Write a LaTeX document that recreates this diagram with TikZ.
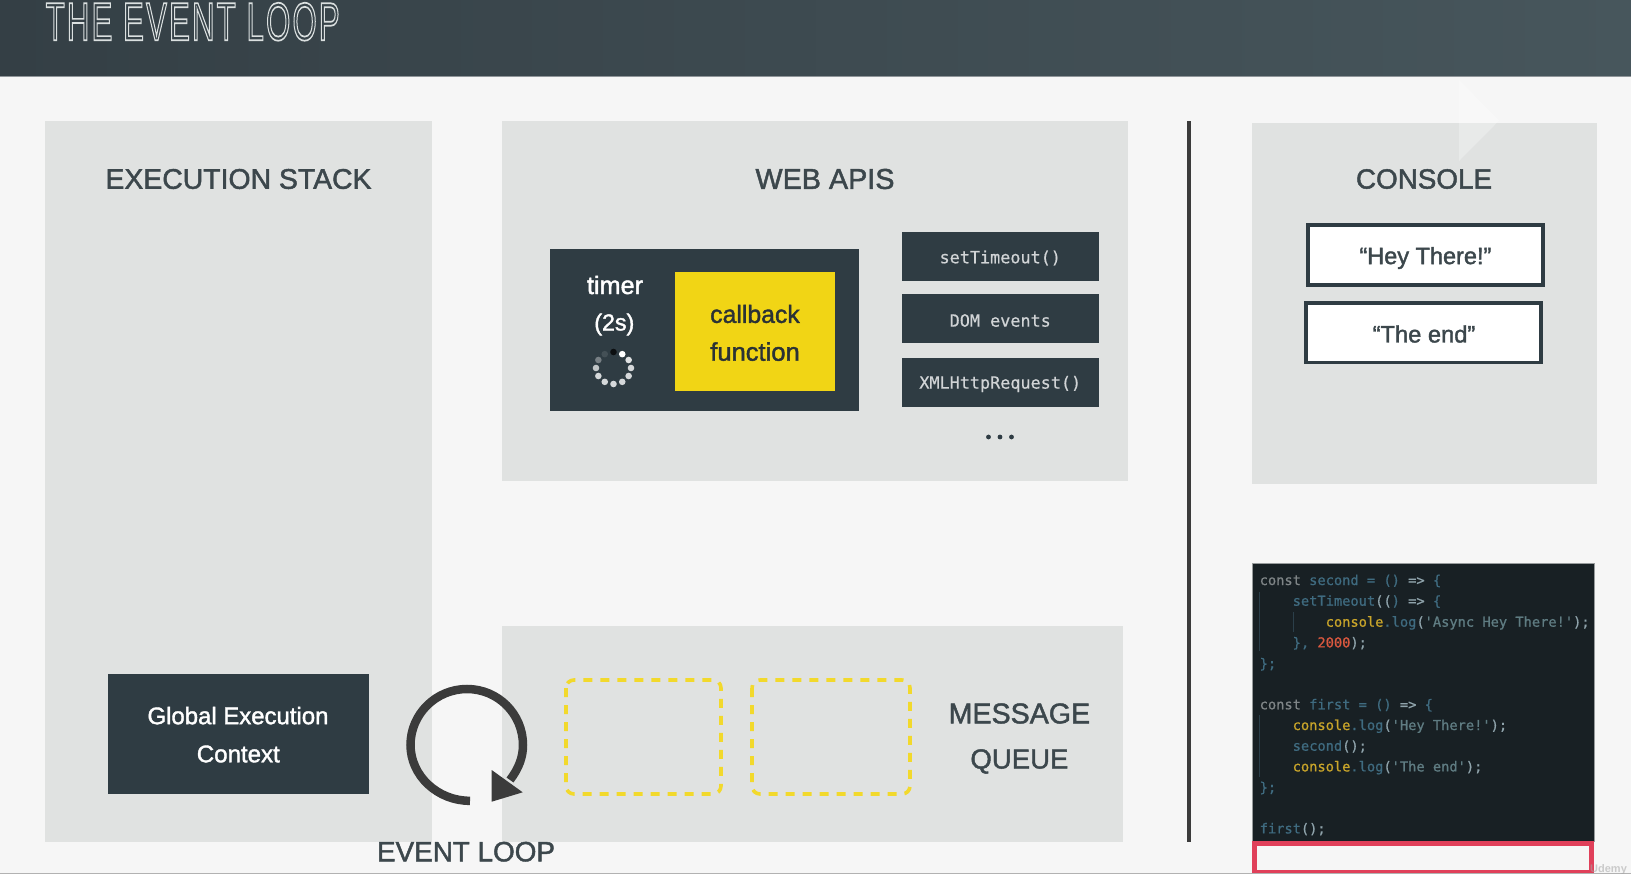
\documentclass[tikz,border=0pt]{standalone}
\usepackage{fontspec}
\usepackage{graphicx}
\setmainfont{Liberation Sans}
\newfontfamily\medfnt[FakeBold=1.6]{Liberation Sans}
\newfontfamily\titlefnt[LetterSpace=7]{Liberation Sans}
\newfontfamily\monofnt[FakeBold=0.5]{DejaVu Sans Mono}
\newfontfamily\codefnt[FakeBold=0.8]{DejaVu Sans Mono}
\definecolor{bgc}{HTML}{F6F6F6}
\definecolor{panelc}{HTML}{E0E2E1}
\definecolor{darkc}{HTML}{2F3C43}
\definecolor{headl}{HTML}{343F45}
\definecolor{headr}{HTML}{47565C}
\definecolor{inkc}{HTML}{3C474C}
\definecolor{yellowc}{HTML}{F1D515}
\definecolor{loopc}{HTML}{3B3B3B}
\definecolor{codebg}{HTML}{182024}
\definecolor{redc}{HTML}{E0405A}
\definecolor{kg}{HTML}{7F8587}
\definecolor{kb}{HTML}{3F6B80}
\definecolor{ky}{HTML}{C9A52A}
\definecolor{ks}{HTML}{5F7C82}
\definecolor{kw}{HTML}{8FA3AB}
\definecolor{kr}{HTML}{D9583F}
\definecolor{guide}{HTML}{2B3F4A}
\newcommand\fitw[2]{\resizebox{#1pt}{!}{#2}}
\newcommand\kk[2]{\textcolor{#1}{#2}}
\tikzset{
  x=1pt,y=-1pt,
  box/.style={anchor=north west,inner sep=0pt,outer sep=0pt,minimum width=#1},
  panel/.style={box=#1,fill=panelc},
  darkbox/.style={box=#1,fill=darkc},
  head/.style={inner sep=0pt,text=inkc,font=\medfnt\fontsize{30}{30}\selectfont},
  white label/.style={inner sep=0pt,text=white,font=\medfnt\fontsize{24}{24}\selectfont},
  yellow label/.style={inner sep=0pt,text=inkc!70!black,font=\medfnt\fontsize{24}{24}\selectfont},
  console label/.style={inner sep=0pt,text=inkc,font=\medfnt\fontsize{24}{24}\selectfont},
  api/.style={inner sep=0pt,text=white!78!darkc,font=\monofnt\fontsize{16.8}{17}\selectfont},
  code/.style={anchor=base west,inner sep=0pt,font=\codefnt\fontsize{13.7}{14}\selectfont},
  slot/.style={draw=yellowc!90!white,line width=3.6pt,rounded corners=8pt,dash pattern=on 9pt off 8pt},
  consolebox/.style={box=#1,fill=white,draw=darkc,line width=3.8pt},
  guideline/.style={draw=guide,line width=0.9pt}
}
\begin{document}
\begin{tikzpicture}
\useasboundingbox (0,0) rectangle (1631,874);
\clip (0,0) rectangle (1631,874);
\fill[bgc] (0,0) rectangle (1631,874);
% header
\shade[left color=headl, right color=headr] (0,0) rectangle (1631,77);
\fill[white!45!headl] (0,76.2) rectangle (1631,77.2);
\node[anchor=north west,inner sep=0pt] (title) at (45.5,2.5) {\resizebox{294pt}{37.5pt}{\special{pdf:code q 1 Tr 0.86 0.88 0.88 RG 0.32 w}\titlefnt THE EVENT LOOP\special{pdf:code Q}}};
% panels
\node[panel=387pt,minimum height=720pt] (stack) at (45,121.5) {};
\node[panel=626pt,minimum height=359pt] (web) at (501.5,121.5) {};
\node[panel=345pt,minimum height=361pt] (console) at (1252,123) {};
\node[panel=621pt,minimum height=216pt] (queue) at (501.5,626) {};
% watermark triangle
\fill[white,opacity=.28] (1459,80) -- (1499,120.7) -- (1459,161) -- cycle;
% divider
\fill[loopc] (1187,121.5) rectangle (1191,841.5);
% headings
\node[head] (h1) at (238.5,179) {\fitw{266}{EXECUTION STACK}};
\node[head] (h2) at (825,179) {\fitw{139}{WEB APIS}};
\node[head] (h3) at (1424,179) {\fitw{136}{CONSOLE}};
% timer
\node[darkbox=309pt,minimum height=162pt] (timerbox) at (550,249) {};
\node[box=159.5pt,minimum height=118.5pt,fill=yellowc] (cb) at (675,272.5) {};
\node[white label] (t1) at (615,285) {\fitw{56}{timer}};
\node[white label] (t2) at (614.3,324.5) {\fitw{40}{(2s)}};
\node[yellow label] (c1) at (755,314) {\fitw{89.5}{callback}};
\node[yellow label] (c2) at (755,351.6) {\fitw{89.5}{function}};
% spinner
\foreach \a/\c in {90/black!75!darkc,60/white,30/white!85!darkc,0/white!80!darkc,-30/white!80!darkc,-60/white!80!darkc,-90/white!80!darkc,-120/white!80!darkc,-150/white!80!darkc,180/white!70!darkc,150/white!35!darkc,120/white!10!darkc}{
  \fill[\c] (613.5,368) ++(\a:17.5 and -16) circle[radius=3.3];
}
% api boxes
\node[darkbox=196.5pt,minimum height=49pt] (a1) at (902,232) {};
\node[darkbox=196.5pt,minimum height=49pt] (a2) at (902,294.5) {};
\node[darkbox=196.5pt,minimum height=49pt] (a3) at (902,358) {};
\node[api] at ([yshift=-1.5pt]a1.center) {setTimeout()};
\node[api] at ([yshift=-1.5pt]a2.center) {DOM events};
\node[api] at ([yshift=-1.5pt]a3.center) {XMLHttpRequest()};
\foreach \x in {988.5,1000,1011.5}{\fill[darkc] (\x,437) circle[radius=2.4];}
% global context
\node[darkbox=261pt,minimum height=120pt] (gec) at (108,674) {};
\node[white label] (g1) at (238,715.6) {\fitw{181}{Global Execution}};
\node[white label] (g2) at (238.3,754) {\fitw{83}{Context}};
% event loop
\draw[loopc,line width=8.5pt] (470,800.8) .. controls (438,801) and (410.5,776) .. (410.5,745)
  .. controls (410.5,714) and (436,689) .. (467,689)
  .. controls (498,689) and (523,714) .. (523,745)
  .. controls (523,757) and (519,768) .. (510,780);
\fill[loopc] (491.7,770) -- (522.7,792.3) -- (491.7,801.7) -- cycle;
\node[head] (el) at (466,851.7) {\fitw{178}{EVENT LOOP}};
% queue
\draw[slot] (566,680) rectangle (721,794);
\draw[slot] (752,680) rectangle (910,794);
\node[head] (m1) at (1019.4,713.5) {\fitw{141.5}{MESSAGE}};
\node[head] (m2) at (1019.4,761.5) {\fitw{98}{QUEUE}};
% console
\node[consolebox=235pt,minimum height=60pt] (r1) at (1308,224.7) {};
\node[consolebox=235pt,minimum height=59.5pt] (r2) at (1306.3,303) {};
\node[console label] at (1425.4,258) {\fitw{132}{“Hey There!”}};
\node[console label] at (1424,334) {\fitw{102.7}{“The end”}};
% code
\node[box=342pt,minimum height=278pt,fill=codebg,draw=white!55!codebg,line width=.5pt] (codebox) at (1252,563) {};
\draw[guideline] (1259.5,592) -- (1259.5,651);
\draw[guideline] (1293,612) -- (1293,632);
\draw[guideline] (1259.5,715) -- (1259.5,777);
\node[code] (l1) at (1259.5,585) {\kk{kg}{const} \kk{kb}{second} \kk{kb}{=} \kk{kb}{()} \kk{kw}{=>} \kk{kb}{\{}};
\node[code] (l2) at (1292.5,605.7) {\kk{kb}{setTimeout}\kk{kw}{((}\kk{kb}{)} \kk{kw}{=>} \kk{kb}{\{}};
\node[code] (l3) at (1325.5,626.7) {\kk{ky}{console}\kk{kb}{.log}\kk{kw}{(}\kk{ks}{'Async Hey There!'}\kk{kw}{);}};
\node[code] (l4) at (1292.5,647.4) {\kk{kb}{\},} \kk{kr}{2000}\kk{kw}{);}};
\node[code] (l5) at (1259.5,668.3) {\kk{kb}{\};}};
\node[code] (l6) at (1259.5,709.3) {\kk{kg}{const} \kk{kb}{first} \kk{kb}{=} \kk{kb}{()} \kk{kw}{=>} \kk{kb}{\{}};
\node[code] (l7) at (1292.5,730) {\kk{ky}{console}\kk{kb}{.log}\kk{kw}{(}\kk{ks}{'Hey There!'}\kk{kw}{);}};
\node[code] (l8) at (1292.5,750.7) {\kk{kb}{second}\kk{kw}{();}};
\node[code] (l9) at (1292.5,771.4) {\kk{ky}{console}\kk{kb}{.log}\kk{kw}{(}\kk{ks}{'The end'}\kk{kw}{);}};
\node[code] (l10) at (1259.5,792.1) {\kk{kb}{\};}};
\node[code] (l11) at (1259.5,833.4) {\kk{kb}{first}\kk{kw}{();}};
% highlighted line
\fill[redc] (1252,841) rectangle (1594,874);
\fill[bgc] (1257,846) rectangle (1589,870);
% bottom edge and watermark
\fill[black!30] (0,872.8) rectangle (1631,874);
\node[anchor=base west,inner sep=0pt,text=black!35,opacity=.55,font=\bfseries\fontsize{11}{11}\selectfont] (ud) at (1590,872) {Udemy};
\end{tikzpicture}
\end{document}
